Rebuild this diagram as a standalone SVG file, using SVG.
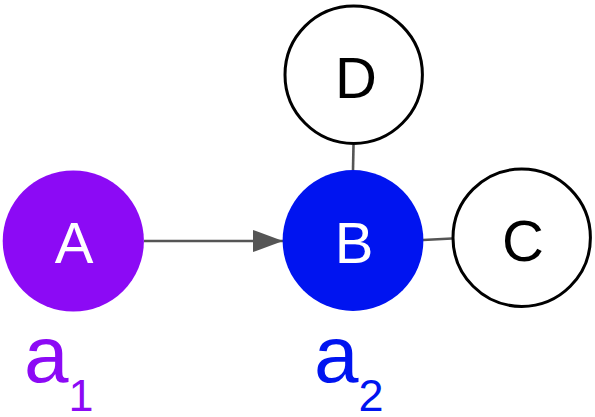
<svg xmlns="http://www.w3.org/2000/svg" width="595" height="417" viewBox="0 0 595 417">
<style>
.lbl{font-family:"Liberation Sans",Arial,sans-serif;font-size:58px;text-anchor:middle}
.edge{stroke:#555;stroke-width:2.6;fill:none}
.open{fill:#fff;stroke:#000;stroke-width:3}
.sub{font-family:"Liberation Sans",Arial,sans-serif}
</style>
<defs>
<marker id="arr" markerWidth="30" markerHeight="22" refX="30" refY="11" orient="auto" markerUnits="userSpaceOnUse">
<path d="M0,0 L30,11 L0,22 Z" fill="#555"/>
</marker>
</defs>
<g id="connectors">
<line class="edge" x1="144" y1="241" x2="283" y2="241" marker-end="url(#arr)"/>
<line class="edge" x1="353.5" y1="145" x2="353" y2="170"/>
<line class="edge" x1="423" y1="240" x2="452" y2="238.5"/>
</g>
<g id="A">
<circle cx="73.3" cy="241" r="70.6" fill="#8c0af5"/>
<text class="lbl" x="74" y="263" fill="#fff">A</text>
</g>
<g id="B">
<circle cx="353" cy="240.5" r="70.4" fill="#0014f0"/>
<text class="lbl" x="354" y="263" fill="#fff">B</text>
</g>
<g id="D">
<circle class="open" cx="353.7" cy="74.7" r="68.7"/>
<text class="lbl" x="356" y="98" fill="#000">D</text>
</g>
<g id="C">
<circle class="open" cx="521.7" cy="237.7" r="68.7"/>
<text class="lbl" x="523" y="261" fill="#000">C</text>
</g>
<g id="label-a1">
<text class="sub" x="24" y="382" font-size="80" fill="#8c0af5">a<tspan font-size="45" dy="29">1</tspan></text>
</g>
<g id="label-a2">
<text class="sub" x="314" y="382" font-size="80" fill="#0014f0">a<tspan font-size="45" dy="29">2</tspan></text>
</g>
</svg>
